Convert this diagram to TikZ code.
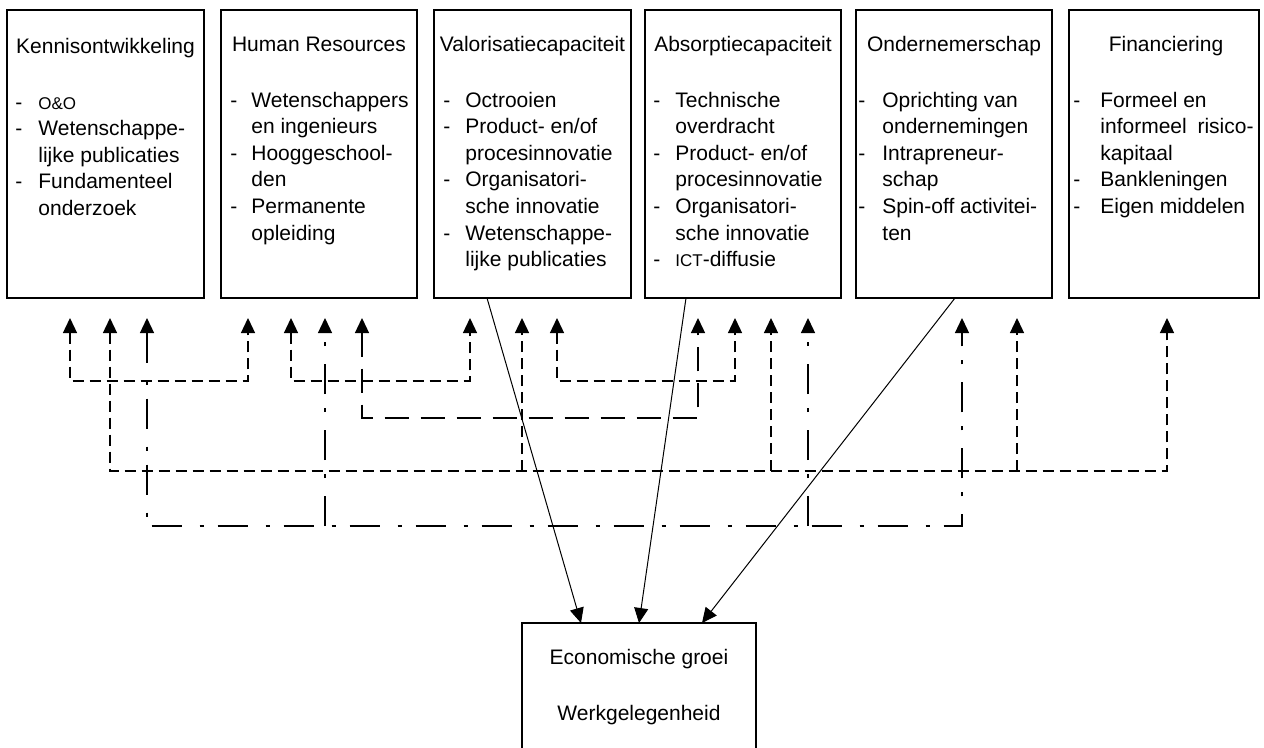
\documentclass[tikz,border=0pt]{standalone}
\usepackage{fontspec}
\setmainfont{Liberation Sans}
\usetikzlibrary{arrows.meta,calc}
\newcommand\scap[1]{{\fontsize{8.5bp}{10bp}\selectfont #1}}
\newcommand\dashlist[2]{\begin{tabular}[t]{@{}p{#1}@{}l@{}}#2\end{tabular}}
\begin{document}
\begin{tikzpicture}[x=0.5bp,y=-0.5bp,
  txt/.style={font=\fontsize{10.5bp}{13.33bp}\selectfont},
  box/.style={draw, line width=0.75bp, inner sep=0pt, outer sep=0pt, anchor=north west, minimum height=144bp},
  head/.style={txt, anchor=base, inner sep=0pt},
  items/.style={txt, anchor=base west, inner sep=0pt},
  both/.style={{Triangle[width=7bp,length=7.5bp]}-{Triangle[width=7bp,length=7.5bp]}},
  up/.style={-{Triangle[width=7bp,length=7.5bp]}},
  dsh/.style={line width=0.65bp, dash pattern=on 5.5bp off 3bp},
  ldsh/.style={line width=0.65bp, dash pattern=on 12bp off 6bp},
  ddot/.style={line width=0.65bp, dash pattern=on 15bp off 9bp on 2bp off 7bp},
  flow/.style={line width=0.5bp, -{Triangle[width=7bp,length=7.5bp]}}
]
\useasboundingbox (0,0) rectangle (1264,747);
\begin{scope}
\clip (0,0) rectangle (1264,747);

% boxes
\node[box, minimum width=98.5bp] (k) at (7,10) {};
\node[box, minimum width=98bp] (h) at (221,10) {};
\node[box, minimum width=98.5bp] (v) at (434,10) {};
\node[box, minimum width=98bp] (a) at (645,10) {};
\node[box, minimum width=98bp] (o) at (856,10) {};
\node[box, minimum width=95bp] (f) at (1069,10) {};
\node[box, minimum width=117bp, minimum height=75bp] (e) at (522,623) {};

% headings
\node[head] (kh) at (105.5,53) {Kennisontwikkeling};
\node[head] (hh) at (319,51) {Human Resources};
\node[head] (vh) at (532.5,51) {Valorisatiecapaciteit};
\node[head] (ah) at (743,51) {Absorptiecapaciteit};
\node[head] (oh) at (954,51) {Ondernemerschap};
\node[head] (fh) at (1166,51) {Financiering};

% item lists
\node[items] (ki) at (15,109) {\dashlist{11.5bp}{%
- & \scap{O\&O}\\
- & Wetenschappe-\\
  & lijke publicaties\\
- & Fundamenteel\\
  & onderzoek}};
\node[items] (hi) at (230,107) {\dashlist{10.5bp}{%
- & Wetenschappers\\
  & en ingenieurs\\
- & Hooggeschool-\\
  & den\\
- & Permanente\\
  & opleiding}};
\node[items] (vi) at (443,107) {\dashlist{11bp}{%
- & Octrooien\\
- & Product- en/of\\
  & procesinnovatie\\
- & Organisatori-\\
  & sche innovatie\\
- & Wetenschappe-\\
  & lijke publicaties}};
\node[items] (ai) at (653,107) {\dashlist{11bp}{%
- & Technische\\
  & overdracht\\
- & Product- en/of\\
  & procesinnovatie\\
- & Organisatori-\\
  & sche innovatie\\
- & \scap{ICT}-diffusie}};
\node[items] (oi) at (858,107) {\dashlist{12bp}{%
- & Oprichting van\\
  & ondernemingen\\
- & Intrapreneur-\\
  & schap\\
- & Spin-off activitei-\\
  & ten}};
\node[items] (fi) at (1073,107) {\dashlist{13.5bp}{%
- & Formeel en\\
  & informeel\hspace{2.5bp} risico-\\
  & kapitaal\\
- & Bankleningen\\
- & Eigen middelen}};

% bottom box text
\node[head] (e1) at (639,664) {Economische groei};
\node[head] (e2) at (639,720) {Werkgelegenheid};

% arrow tips and levels
\foreach \x in {70,110,147,248,291,325,362,470,522,557,698,735,771,808,962,1017,1167}
  \coordinate (t\x) at (\x,318);
\coordinate (L1) at (0,381);
\coordinate (L2) at (0,418);
\coordinate (L3) at (0,471);
\coordinate (L4) at (0,526);

% level 1 (short dashes)
\draw[dsh,both] (t70) -- (t70|-L1) -- (t248|-L1) -- (t248);
\draw[dsh,both] (t291) -- (t291|-L1) -- (t470|-L1) -- (t470);
\draw[dsh,both] (t557) -- (t557|-L1) -- (t735|-L1) -- (t735);
% level 2 (long dashes)
\draw[ldsh,both] (t362) -- (t362|-L2) -- (t698|-L2) -- (t698);
% level 3 (short dashes)
\draw[dsh,both] (t110) -- (t110|-L3) -- (t1167|-L3) -- (t1167);
\draw[dsh,up] (t522|-L3) -- (t522);
\draw[dsh,up] (t771|-L3) -- (t771);
\draw[dsh,up] (t1017|-L3) -- (t1017);
% level 4 (dash-dot)
\draw[ddot,both] (t147) -- (t147|-L4) -- (t962|-L4) -- (t962);
\draw[ddot,up] (t325|-L4) -- (t325);
\draw[ddot,up] (t808|-L4) -- (t808);

% solid arrows to the bottom box
\draw[flow] ($(v.south west)+(53,0)$) -- ($(e.north west)+(59,0)$);
\draw[flow] ($(a.south west)+(41,0)$) -- ($(e.north west)+(117,0)$);
\draw[flow] ($(o.south west)+(99,0)$) -- ($(e.north west)+(180,0)$);
\end{scope}
\end{tikzpicture}
\end{document}
